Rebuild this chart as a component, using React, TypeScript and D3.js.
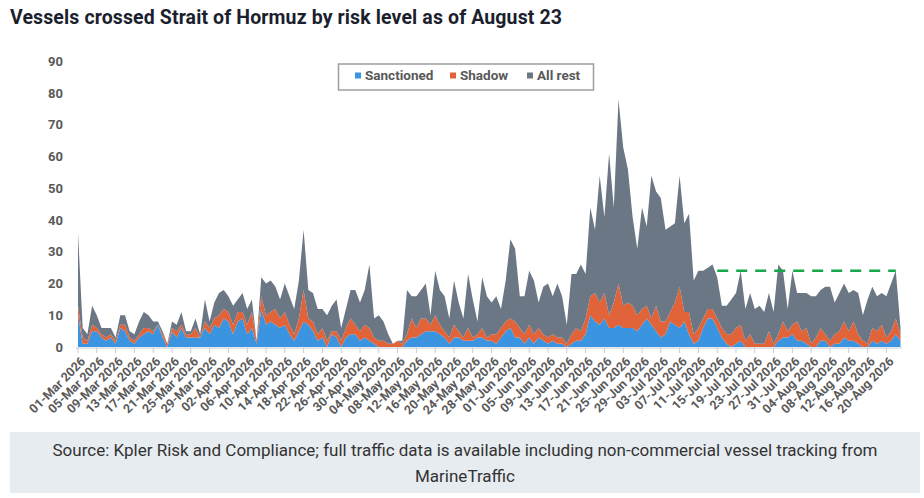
import * as d3 from "d3";

// daily vessel counts, 01-Mar-2026 .. 23-Aug-2026
const sanctioned = [
  10, 1, 1, 5, 5, 3, 2, 3, 1, 6,
  5, 2, 1, 3, 4, 5, 4, 7, 3, 0,
  5, 3, 6, 3, 3, 3, 3, 6, 4, 7,
  6, 9, 8, 4, 8, 9, 4, 6, 1, 12,
  7, 8, 7, 6, 7, 4, 2, 5, 8, 7,
  5, 2, 3, 0, 4, 3, 0, 3, 4, 4,
  2, 3, 2, 1, 0, 0, 0, 0, 0, 0,
  2, 3, 3, 4, 5, 5, 5, 4, 3, 1,
  3, 3, 2, 2, 2, 3, 3, 2, 2, 1,
  3, 5, 6, 3, 3, 1, 3, 1, 3, 2,
  1, 2, 1, 1, 0, 1, 2, 2, 4, 10,
  8, 7, 9, 6, 6, 7, 6, 6, 6, 5,
  7, 9, 7, 5, 3, 4, 8, 7, 6, 8,
  4, 1, 2, 6, 9, 9, 6, 3, 1, 0,
  1, 2, 0, 0, 0, 0, 0, 0, 0, 2,
  3, 3, 4, 2, 2, 1, 0, 0, 2, 2,
  0, 1, 1, 3, 2, 2, 1, 0, 0, 2,
  1, 2, 1, 2, 4, 2,
];

const shadow = [
  3, 2, 1, 2, 1, 1, 1, 1, 1, 1,
  2, 1, 1, 1, 2, 1, 1, 0, 1, 1,
  1, 2, 1, 1, 1, 3, 0, 2, 2, 2,
  4, 3, 3, 3, 3, 2, 3, 5, 1, 4,
  3, 3, 5, 3, 4, 3, 2, 4, 10, 2,
  3, 2, 3, 2, 1, 2, 2, 3, 5, 3,
  3, 4, 4, 2, 2, 2, 1, 1, 2, 1,
  2, 6, 3, 5, 4, 2, 5, 3, 2, 2,
  4, 2, 1, 4, 1, 1, 3, 1, 2, 3,
  3, 3, 3, 5, 3, 3, 4, 3, 3, 2,
  2, 2, 2, 2, 1, 3, 4, 3, 5, 6,
  9, 7, 8, 4, 8, 13, 7, 8, 7, 5,
  5, 4, 2, 8, 5, 4, 3, 7, 13, 3,
  7, 3, 4, 3, 3, 3, 3, 3, 3, 4,
  5, 5, 2, 4, 1, 1, 1, 5, 1, 2,
  5, 2, 3, 6, 3, 5, 1, 3, 4, 2,
  2, 3, 4, 5, 3, 6, 3, 2, 1, 4,
  4, 5, 2, 3, 5, 2,
];

const allRest = [
  23, 3, 2, 6, 4, 2, 3, 2, 1, 3,
  3, 2, 2, 4, 5, 4, 3, 1, 1, 0,
  2, 2, 4, 1, 1, 3, 1, 7, 2, 5,
  7, 6, 5, 6, 4, 6, 5, 4, 0, 6,
  10, 10, 7, 6, 9, 9, 8, 12, 19, 9,
  9, 8, 6, 8, 8, 10, 4, 6, 9, 11,
  9, 11, 20, 6, 8, 6, 3, 0, 0, 1,
  14, 7, 10, 9, 11, 3, 14, 11, 11, 6,
  14, 9, 6, 17, 12, 4, 16, 13, 10, 12,
  6, 13, 25, 23, 10, 12, 17, 17, 8, 15,
  17, 12, 17, 13, 6, 19, 17, 21, 14, 28,
  20, 40, 24, 51, 30, 58, 50, 42, 28, 21,
  32, 25, 45, 36, 39, 29, 27, 25, 35, 28,
  31, 17, 18, 15, 13, 14, 13, 7, 9, 11,
  11, 17, 10, 13, 11, 12, 10, 12, 10, 22,
  16, 7, 17, 9, 12, 11, 15, 13, 12, 15,
  17, 10, 12, 12, 12, 10, 13, 8, 14, 13,
  11, 10, 13, 15, 15, 2,
];

const seriesKeys = ["sanctioned", "shadow", "allRest"];
const seriesNames = ["Sanctioned", "Shadow", "All rest"];
const seriesColors = ["#3a94e0", "#e1633a", "#6b7785"];

const yTicks = [0, 10, 20, 30, 40, 50, 60, 70, 80, 90];
const tickEvery = 4;

// dashed reference level drawn over the last weeks
const refFrom = "15-Jul 2026";
const refTo = "22-Aug 2026";
const refValue = 24;

const title = "Vessels crossed Strait of Hormuz by risk level as of August 23";
const sourceLines = [
  "Source: Kpler Risk and Compliance; full traffic data is available including non-commercial vessel tracking from",
  "MarineTraffic",
];

const fmt = d3.timeFormat("%d-%b %Y");
const start = new Date(2026, 2, 1, 12);
const dates = sanctioned.map((_, i) => fmt(d3.timeDay.offset(start, i)));

const rows = dates.map((d, i) => ({
  date: d,
  sanctioned: sanctioned[i],
  shadow: shadow[i],
  allRest: allRest[i],
}));

export default function App() {
  const width = 924;
  const height = 498;

  const x = d3.scalePoint().domain(dates).range([78, 900.5]);
  const y = d3.scaleLinear().domain([0, 90]).range([347, 61.5]);

  const stacked = d3.stack().keys(seriesKeys)(rows as any);
  const area = d3
    .area<any>()
    .x((d) => x(d.data.date) as number)
    .y0((d) => y(d[0]))
    .y1((d) => y(d[1]));

  const tickDates = dates.filter((_, i) => i % tickEvery === 0);

  const legendX = [355, 450, 527];

  return (
    <svg
      width={width}
      height={height}
      style={{ position: "absolute", left: 0, top: 0, fontFamily: "Roboto" }}
    >
      <rect width={width} height={height} fill="#fff" />
      <text x={10} y={24} fontSize={19.5} fontWeight={700} fill="#1c1f2e" textLength={552}>
        {title}
      </text>

      {stacked.map((s, i) => (
        <path key={s.key} d={area(s) as string} fill={seriesColors[i]} />
      ))}

      <line
        x1={x(refFrom)}
        x2={x(refTo)}
        y1={y(refValue)}
        y2={y(refValue)}
        stroke="#17a84b"
        strokeWidth={2.5}
        strokeDasharray="11 8"
      />

      {/* y axis labels */}
      {yTicks.map((t) => (
        <text
          key={t}
          x={63}
          y={y(t)}
          dy="0.35em"
          textAnchor="end"
          fontSize={13}
          fontWeight={700}
          fill="#595959"
        >
          {t}
        </text>
      ))}

      {/* x axis */}
      <line x1={76} x2={902} y1={348} y2={348} stroke="#c5ccd4" />
      {tickDates.map((d) => (
        <g key={d} transform={`translate(${x(d)},0)`}>
          <line y1={348} y2={353} stroke="#c5ccd4" />
          <text
            transform="translate(2,356) rotate(-45)"
            textAnchor="end"
            dy="0.7em"
            fontSize={12.5}
            fontWeight={700}
            fill="#595959"
          >
            {d}
          </text>
        </g>
      ))}

      {/* legend */}
      <rect x={338.5} y={64} width={255} height={26} fill="#fff" stroke="#9e9e9e" strokeWidth={1.5} />
      {seriesNames.map((n, i) => (
        <g key={n}>
          <rect x={legendX[i]} y={72.5} width={6} height={6} fill={seriesColors[i]} />
          <text x={legendX[i] + 10} y={80} fontSize={13.5} fontWeight={700} fill="#595959">
            {n}
          </text>
        </g>
      ))}

      {/* source box */}
      <rect x={10} y={432} width={910} height={61} fill="#e7ecf0" />
      {sourceLines.map((l, i) => (
        <text key={i} x={465} y={456 + i * 26} textAnchor="middle" fontSize={17} fill="#333">
          {l}
        </text>
      ))}
    </svg>
  );
}
